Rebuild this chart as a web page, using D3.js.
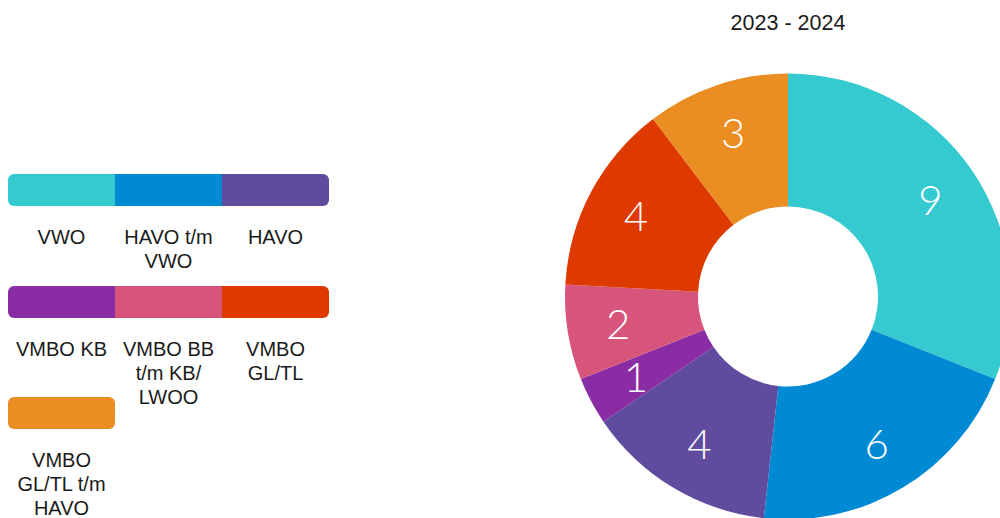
<!DOCTYPE html>
<html>
<head>
<meta charset="utf-8">
<script src="https://cdn.jsdelivr.net/npm/d3@7"></script>
<style>
  html, body { margin: 0; padding: 0; background: #fff; }
  svg { display: block; }
</style>
</head>
<body>
<svg id="chart" width="1000" height="518"></svg>
<script>
// ---- data ----
const title = "2023 - 2024";
const categories = ["VWO", "HAVO t/m VWO", "HAVO", "VMBO KB", "VMBO BB t/m KB/LWOO", "VMBO GL/TL", "VMBO GL/TL t/m HAVO"];
const values = [9, 6, 4, 1, 2, 4, 3];
const colors = ["#35C9D0", "#008AD3", "#5F4C9E", "#8A2DA4", "#D7557B", "#DE3A00", "#EA8D23"];
const legendLines = [
  ["VWO"],
  ["HAVO t/m", "VWO"],
  ["HAVO"],
  ["VMBO KB"],
  ["VMBO BB", "t/m KB/", "LWOO"],
  ["VMBO", "GL/TL"],
  ["VMBO", "GL/TL t/m", "HAVO"]
];

const svg = d3.select("#chart");

// ---- donut ----
const cx = 788, cy = 296.5, rOuter = 223, rInner = 90, rLabel = 172;
const pie = d3.pie().sort(null).value(d => d)(values);
const arc = d3.arc().innerRadius(rInner).outerRadius(rOuter);
const labelArc = d3.arc().innerRadius(rLabel).outerRadius(rLabel);

const g = svg.append("g").attr("transform", `translate(${cx},${cy})`);
g.selectAll("path").data(pie).join("path")
  .attr("d", arc)
  .attr("fill", (d, i) => colors[i]);

g.selectAll("text").data(pie).join("text")
  .attr("transform", d => `translate(${labelArc.centroid(d)})`)
  .attr("text-anchor", "middle")
  .attr("dy", "0.35em")
  .attr("fill", "#fff")
  .style("font-family", "Lato, 'Open Sans', sans-serif")
  .style("font-weight", 300)
  .style("font-size", "42px")
  .text(d => d.data);

svg.append("text")
  .attr("x", cx).attr("y", 29.5)
  .attr("text-anchor", "middle")
  .attr("fill", "#1a1a1a")
  .style("font-family", "'Liberation Sans', Arial, sans-serif")
  .style("font-size", "21.5px")
  .text(title);

// ---- legend ----
const cols = 3, segW = 107, barH = 32, x0 = 8, rowY = [174, 286, 397];
const lg = svg.append("g");
const defs = svg.append("defs");
const nRows = Math.ceil(categories.length / cols);
for (let r = 0; r < nRows; r++) {
  const n = Math.min(cols, categories.length - r * cols);
  defs.append("clipPath").attr("id", "clip" + r)
    .append("rect")
    .attr("x", x0).attr("y", rowY[r])
    .attr("width", segW * n).attr("height", barH)
    .attr("rx", 6).attr("ry", 6);
}
categories.forEach((c, i) => {
  const r = Math.floor(i / cols), k = i % cols;
  const x = x0 + k * segW;
  lg.append("rect")
    .attr("clip-path", `url(#clip${r})`)
    .attr("x", x).attr("y", rowY[r])
    .attr("width", segW + (k < cols - 1 ? 0.5 : 0)).attr("height", barH)
    .attr("fill", colors[i]);
  const t = lg.append("text")
    .attr("text-anchor", "middle")
    .attr("fill", "#1a1a1a")
    .style("font-family", "'Liberation Sans', Arial, sans-serif")
    .style("font-size", "20px");
  legendLines[i].forEach((line, j) => {
    t.append("tspan")
      .attr("x", x + segW / 2)
      .attr("y", rowY[r] + 70 + j * 24)
      .text(line);
  });
});
</script>
</body>
</html>
